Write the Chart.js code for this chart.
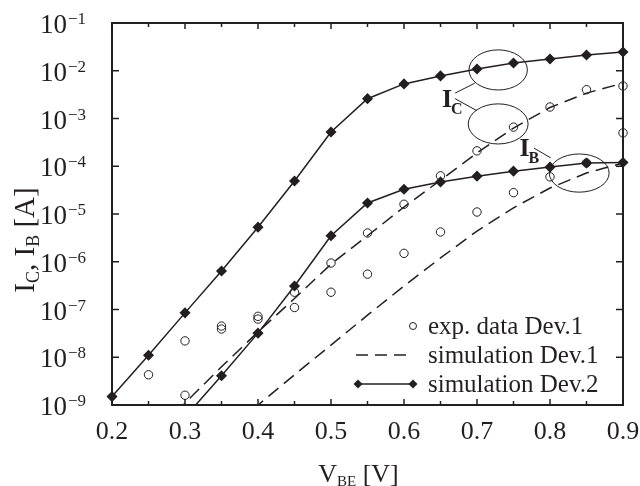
<!DOCTYPE html>
<html>
<head>
<meta charset="utf-8">
<script src="https://cdn.jsdelivr.net/npm/chart.js@4.4.1/dist/chart.umd.min.js"></script>
<style>
  html, body { margin: 0; padding: 0; background: #fff; }
  #wrap { width: 640px; height: 486px; }
</style>
</head>
<body>
<div id="wrap"><canvas id="ivChart" width="640" height="486"></canvas></div>
<script>
// V_BE sweep [V]
const vbeDev2IC = [0.2, 0.25, 0.3, 0.35, 0.4, 0.45, 0.5, 0.55, 0.6, 0.65, 0.7, 0.75, 0.8, 0.85, 0.9];
const icDev2 = [1.5e-9, 1.1e-8, 8.5e-8, 6.4e-7, 5.3e-6, 4.9e-5, 5.2e-4, 2.6e-3, 5.3e-3, 7.8e-3, 1.09e-2, 1.45e-2, 1.76e-2, 2.14e-2, 2.47e-2];

const vbeDev2IB = [0.3, 0.35, 0.4, 0.45, 0.5, 0.55, 0.6, 0.65, 0.7, 0.75, 0.8, 0.85, 0.9];
const ibDev2 = [5.6e-10, 4.1e-9, 3.2e-8, 3.1e-7, 3.5e-6, 1.7e-5, 3.3e-5, 4.7e-5, 6.2e-5, 7.9e-5, 9.6e-5, 1.17e-4, 1.2e-4];

const vbeDev1IC = [0.25, 0.3, 0.35, 0.4, 0.45, 0.5, 0.55, 0.6, 0.65, 0.7, 0.75, 0.8, 0.85, 0.9];
const icDev1Sim = [1.7e-10, 1.1e-9, 6.3e-9, 3.4e-8, 1.7e-7, 8.9e-7, 3.5e-6, 1.4e-5, 5.1e-5, 1.9e-4, 6.3e-4, 1.7e-3, 3.4e-3, 5.5e-3];

const vbeDev1IB = [0.35, 0.4, 0.45, 0.5, 0.55, 0.6, 0.65, 0.7, 0.75, 0.8, 0.85, 0.9];
const ibDev1Sim = [2.5e-10, 1.0e-9, 4.3e-9, 1.8e-8, 7.6e-8, 3.1e-7, 1.2e-6, 4.4e-6, 1.35e-5, 3.5e-5, 7.2e-5, 1.17e-4];

// measured points, Dev.1 (I_C and I_B mixed)
const expVbe = [0.25, 0.3, 0.3, 0.35, 0.35, 0.4, 0.4, 0.45, 0.45, 0.5, 0.5, 0.55, 0.55, 0.6, 0.6,
                0.65, 0.65, 0.7, 0.7, 0.75, 0.75, 0.8, 0.8, 0.85, 0.85, 0.9, 0.9];
const expI = [4.3e-9, 2.2e-8, 1.6e-9, 4.5e-8, 3.9e-8, 7.2e-8, 6.3e-8, 2.3e-7, 1.1e-7, 9.4e-7, 2.3e-7, 4.0e-6, 5.5e-7, 1.6e-5, 1.5e-6,
              6.3e-5, 4.2e-6, 2.1e-4, 1.1e-5, 6.6e-4, 2.8e-5, 1.74e-3, 6.0e-5, 4.0e-3, 1.17e-4, 4.8e-3, 5.0e-4];

const xMajorTicks = [0.2, 0.3, 0.4, 0.5, 0.6, 0.7, 0.8, 0.9];
const xMinorTicks = [0.25, 0.35, 0.45, 0.55, 0.65, 0.75, 0.85];
const yDecades = [-9, -8, -7, -6, -5, -4, -3, -2, -1];
const legendLabels = ['exp. data Dev.1', 'simulation Dev.1', 'simulation Dev.2'];

const ink = '#231f20';
const serif = '"Liberation Serif", "Times New Roman", serif';
const dash = [13, 7];

const pts = (xs, ys) => xs.map((x, i) => ({ x: x, y: ys[i] }));

// ellipses around curve groups (centre V, centre A, half-width V, half-height in decades)
const marks = [
    { cx: 0.729, cy: 1.04e-2, rx: 0.040, ry: 0.42 },
    { cx: 0.729, cy: 7.7e-4, rx: 0.041, ry: 0.42 },
    { cx: 0.840, cy: 7.2e-5, rx: 0.041, ry: 0.40 }
];

function text(ctx, s, x, y, font, align) {
    ctx.font = font;
    ctx.textAlign = align || 'left';
    ctx.fillText(s, x, y);
    return ctx.measureText(s).width;
}

const decorPlugin = {
    id: 'decor',
    beforeDraw(chart) {
        const ctx = chart.ctx;
        ctx.save();
        ctx.fillStyle = '#fff';
        ctx.fillRect(0, 0, chart.width, chart.height);
        ctx.restore();
    },
    afterDraw(chart) {
        const { ctx, chartArea: a, scales: { x, y } } = chart;
        ctx.save();
        ctx.strokeStyle = ink;
        ctx.fillStyle = ink;
        ctx.textBaseline = 'alphabetic';

        // frame
        ctx.lineWidth = 2;
        ctx.strokeRect(a.left, a.top, a.right - a.left, a.bottom - a.top);

        // ticks, mirrored on all sides
        ctx.lineWidth = 1.5;
        ctx.beginPath();
        xMajorTicks.concat(xMinorTicks).forEach(v => {
            const px = x.getPixelForValue(v);
            const len = xMajorTicks.includes(v) ? 6 : 4;
            ctx.moveTo(px, a.bottom); ctx.lineTo(px, a.bottom - len);
            ctx.moveTo(px, a.top); ctx.lineTo(px, a.top + len);
        });
        yDecades.forEach(e => {
            const py = y.getPixelForValue(Math.pow(10, e));
            ctx.moveTo(a.left, py); ctx.lineTo(a.left + 7, py);
            ctx.moveTo(a.right, py); ctx.lineTo(a.right - 7, py);
        });
        ctx.stroke();

        // x labels
        xMajorTicks.forEach(v => {
            text(ctx, v.toFixed(1), x.getPixelForValue(v), a.bottom + 34, '26px ' + serif, 'center');
        });

        // y labels 10^n
        yDecades.forEach(e => {
            const py = y.getPixelForValue(Math.pow(10, e));
            text(ctx, '10', 67, py + 10, '27px ' + serif, 'right');
            text(ctx, '\u2212' + Math.abs(e), 68, py + 1, '17px ' + serif, 'left');
        });

        // x title: V_BE [V]
        ctx.font = '26px ' + serif;
        const wV = ctx.measureText('V').width;
        const wU = ctx.measureText(' [V]').width;
        ctx.font = '15px ' + serif;
        const wS = ctx.measureText('BE').width;
        let tx = (a.left + a.right) / 2 - 9 - (wV + wS + wU) / 2;
        const tb = 482;
        tx += text(ctx, 'V', tx, tb, '26px ' + serif);
        tx += text(ctx, 'BE', tx, tb + 4, '15px ' + serif);
        text(ctx, ' [V]', tx, tb, '26px ' + serif);

        // y title: I_C, I_B [A]
        ctx.save();
        ctx.translate(34, 240);
        ctx.rotate(-Math.PI / 2);
        const parts = [['I', 0, 29], ['C', 5, 18], [', I', 0, 29], ['B', 5, 18], [' [A]', 0, 29]];
        let tot = 0;
        parts.forEach(p => { ctx.font = p[2] + 'px ' + serif; tot += ctx.measureText(p[0]).width; });
        let ox = -tot / 2;
        parts.forEach(p => { ox += text(ctx, p[0], ox, p[1], p[2] + 'px ' + serif); });
        ctx.restore();

        // ellipses and labels
        ctx.lineWidth = 1;
        marks.forEach(m => {
            const cx = x.getPixelForValue(m.cx);
            const cy = y.getPixelForValue(m.cy);
            const rx = x.getPixelForValue(m.cx + m.rx) - cx;
            const ry = cy - y.getPixelForValue(m.cy * Math.pow(10, m.ry));
            ctx.beginPath();
            ctx.ellipse(cx, cy, rx, ry, 0, 0, Math.PI * 2);
            ctx.stroke();
        });
        const seg = (x1, y1, x2, y2) => {
            ctx.beginPath();
            ctx.moveTo(x.getPixelForValue(x1), y.getPixelForValue(y1));
            ctx.lineTo(x.getPixelForValue(x2), y.getPixelForValue(y2));
            ctx.stroke();
        };
        seg(0.670, 3.4e-3, 0.697, 5.5e-3);
        seg(0.670, 2.6e-3, 0.700, 1.45e-3);
        seg(0.778, 2.4e-4, 0.801, 1.5e-4);

        let lx = x.getPixelForValue(0.6685);
        let ly = y.getPixelForValue(1.75e-3);
        lx += text(ctx, 'I', lx - 12, ly, 'bold 26px ' + serif) - 13;
        text(ctx, 'C', lx, ly + 7, 'bold 16px ' + serif);
        lx = x.getPixelForValue(0.7745);
        ly = y.getPixelForValue(1.65e-4);
        lx += text(ctx, 'I', lx - 12, ly, 'bold 26px ' + serif) - 13;
        text(ctx, 'B', lx, ly + 7, 'bold 16px ' + serif);

        // legend
        const rows = [a.bottom - 79, a.bottom - 50, a.bottom - 21];
        const sx0 = a.right - 265, sx1 = a.right - 210, tx0 = a.right - 195;
        ctx.lineWidth = 1;
        ctx.beginPath();
        ctx.arc(sx1, rows[0], 3.5, 0, Math.PI * 2);
        ctx.stroke();
        ctx.lineWidth = 1.5;
        ctx.setLineDash([12, 7]);
        ctx.beginPath(); ctx.moveTo(sx0 - 2, rows[1]); ctx.lineTo(sx1, rows[1]); ctx.stroke();
        ctx.setLineDash([]);
        ctx.beginPath(); ctx.moveTo(sx0, rows[2]); ctx.lineTo(sx1, rows[2]); ctx.stroke();
        [sx0, sx1].forEach(px => {
            ctx.beginPath();
            ctx.moveTo(px, rows[2] - 4.5); ctx.lineTo(px + 4.5, rows[2]);
            ctx.lineTo(px, rows[2] + 4.5); ctx.lineTo(px - 4.5, rows[2]);
            ctx.closePath(); ctx.fill();
        });
        legendLabels.forEach((s, i) => text(ctx, s, tx0, rows[i] + 8, '25px ' + serif));

        ctx.restore();
    }
};

const lineBase = {
    borderColor: ink,
    backgroundColor: ink,
    borderWidth: 1.5,
    tension: 0,
    clip: { left: 8, top: 8, right: 8, bottom: 0 }
};

new Chart(document.getElementById('ivChart'), {
    type: 'line',
    data: {
        datasets: [
            Object.assign({}, lineBase, { label: 'exp. data Dev.1', data: pts(expVbe, expI), showLine: false,
                pointStyle: 'circle', pointRadius: 4.2, borderWidth: 1, backgroundColor: 'rgba(0,0,0,0)' }),
            Object.assign({}, lineBase, { label: 'I_C simulation Dev.2', data: pts(vbeDev2IC, icDev2),
                pointStyle: 'rectRot', pointRadius: 4.5 }),
            Object.assign({}, lineBase, { label: 'I_B simulation Dev.2', data: pts(vbeDev2IB, ibDev2),
                pointStyle: 'rectRot', pointRadius: 4.5 }),
            Object.assign({}, lineBase, { label: 'I_C simulation Dev.1', data: pts(vbeDev1IC, icDev1Sim),
                borderDash: dash, pointRadius: 0 }),
            Object.assign({}, lineBase, { label: 'I_B simulation Dev.1', data: pts(vbeDev1IB, ibDev1Sim),
                borderDash: dash, pointRadius: 0 })
        ]
    },
    options: {
        responsive: false,
        animation: false,
        layout: { padding: { left: 112, right: 17, top: 23, bottom: 81 } },
        plugins: { legend: { display: false }, tooltip: { enabled: false } },
        scales: {
            x: { type: 'linear', min: 0.2, max: 0.9, display: false },
            y: { type: 'logarithmic', min: 1e-9, max: 1e-1, display: false }
        }
    },
    plugins: [decorPlugin]
});
</script>
</body>
</html>
